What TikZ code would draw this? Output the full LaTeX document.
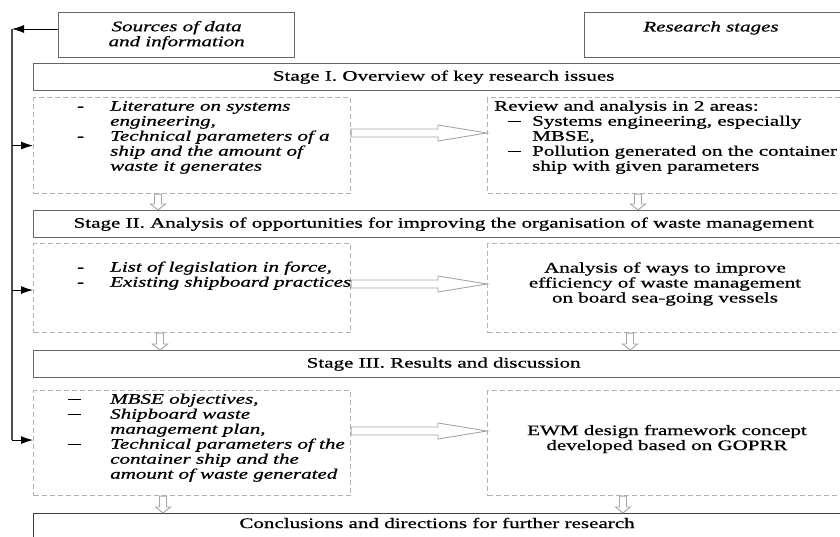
\documentclass[tikz,border=0pt]{standalone}
\usepackage{fontspec}
\setmainfont{Liberation Serif}[FakeStretch=1.45,FakeBold=0.8]
\usetikzlibrary{arrows.meta,calc}
\newcommand\fs{\fontsize{14.5}{15}\selectfont}
\tikzset{
  frame/.style={draw=black!60, line width=1.3pt, inner sep=0pt, anchor=north west},
  dbox/.style={draw=black!30, line width=1.1pt, dash pattern=on 5pt off 3pt, inner sep=0pt, anchor=north west},
  txt/.style={inner sep=0pt, font=\fs},
  hollow/.style={draw=black!35, line width=0.9pt, fill=white, line join=miter},
  fb/.style={draw=black, line width=0.9pt, -{Latex[length=12pt,width=8pt]}},
  fbline/.style={draw=black!70, line width=1.1pt}
}
\newcommand\hright[2]{\draw[hollow] ($(#1)+(0,-4)$) -- ($(#2)+(-49,-4)$) -- ($(#2)+(-49,-8)$) -- (#2) -- ($(#2)+(-49,8)$) -- ($(#2)+(-49,4)$) -- ($(#1)+(0,4)$) -- cycle;}
\newcommand\hdown[2]{\draw[hollow] ($(#1)+(-3.5,0)$) -- ($(#2)+(-3.5,-6)$) -- ($(#2)+(-7.5,-6)$) -- (#2) -- ($(#2)+(7.5,-6)$) -- ($(#2)+(3.5,-6)$) -- ($(#1)+(3.5,0)$) -- cycle;}
\newcommand\ldash{\rule[3.6pt]{13pt}{0.8pt}}
\begin{document}
\begin{tikzpicture}[x=1pt,y=-1pt]
\useasboundingbox (0,0) rectangle (840,537);
\clip (0,0) rectangle (840,537);
% header boxes
\node[frame, minimum width=236pt, minimum height=45pt, align=center, font=\fs\itshape] (src) at (58,12) {Sources of data\\and information};
\node[frame, minimum width=270pt, minimum height=45pt] (res) at (584,12) {};
\node[txt, font=\fs\itshape] (restxt) at (711,28) {Research stages};
% stage boxes
\node[frame, minimum width=820pt, minimum height=27pt, font=\fs] (s1) at (33,63) {Stage I. Overview of key research issues};
\node[frame, minimum width=820pt, minimum height=27pt, font=\fs] (s2) at (33,210) {Stage II. Analysis of opportunities for improving the organisation of waste management};
\node[frame, minimum width=820pt, minimum height=27pt, font=\fs] (s3) at (33,350) {Stage III. Results and discussion};
\node[frame, draw=black!75, minimum width=820pt, minimum height=50pt] (s4) at (33,513) {};
\node[txt] (s4txt) at (437,523) {Conclusions and directions for further research};
% dashed boxes
\node[dbox, minimum width=317pt, minimum height=96pt] (L1) at (33,97) {};
\node[dbox, minimum width=360pt, minimum height=96pt] (R1) at (487,97) {};
\node[dbox, minimum width=317pt, minimum height=89pt] (L2) at (33,243) {};
\node[dbox, minimum width=360pt, minimum height=89pt] (R2) at (487,243) {};
\node[dbox, minimum width=317pt, minimum height=105pt] (L3) at (33,390) {};
\node[dbox, minimum width=360pt, minimum height=105pt] (R3) at (487,390) {};
% texts
\node[txt, anchor=north west, font=\fs\itshape] (L1t) at (77,100) {%
\begin{tabular}{@{}p{33pt}@{}l@{}}-&Literature on systems\\ &engineering,\\ -&Technical parameters of a\\ &ship and the amount of\\ &waste it generates\end{tabular}};
\node[txt, anchor=north west] (R1t) at (494,100) {%
\begin{tabular}{@{}p{14pt}@{}p{24pt}@{}l@{}}\multicolumn{3}{@{}l@{}}{Review and analysis in 2 areas:}\\ &\ldash&Systems engineering, especially\\ &&MBSE,\\ &\ldash&Pollution generated on the container\\ &&ship with given parameters\end{tabular}};
\node[txt, anchor=north west, font=\fs\itshape] (L2t) at (77,261) {%
\begin{tabular}{@{}p{33pt}@{}l@{}}-&List of legislation in force,\\ -&Existing shipboard practices\end{tabular}};
\node[txt, align=center] (R2t) at (665,284) {Analysis of ways to improve\\efficiency of waste management\\on board sea-going vessels};
\node[txt, anchor=north west, font=\fs\itshape] (L3t) at (68,393) {%
\begin{tabular}{@{}p{42pt}@{}l@{}}\ldash&MBSE objectives,\\ \ldash&Shipboard waste\\ &management plan,\\ \ldash&Technical parameters of the\\ &container ship and the\\ &amount of waste generated\end{tabular}};
\node[txt, align=center] (R3t) at (667,439) {EWM design framework concept\\developed based on GOPRR};
% hollow right arrows
\coordinate (a1s) at ($(L1.north east)+(0,36)$);
\coordinate (a1e) at ($(R1.north west)+(0,36)$);
\hright{a1s}{a1e}
\coordinate (a2s) at ($(L2.north east)+(0,41)$);
\coordinate (a2e) at ($(R2.north west)+(0,41)$);
\hright{a2s}{a2e}
\coordinate (a3s) at ($(L3.north east)+(0,41)$);
\coordinate (a3e) at ($(R3.north west)+(0,41)$);
\hright{a3s}{a3e}
% hollow down arrows
\hdown{$(L1.south west)+(125,0)$}{$(s2.north west)+(125,0)$}
\hdown{$(R1.south west)+(151,0)$}{$(s2.north west)+(605,0)$}
\hdown{$(L2.south west)+(127,0)$}{$(s3.north west)+(127,0)$}
\hdown{$(R2.south west)+(143,0)$}{$(s3.north west)+(597,0)$}
\hdown{$(L3.south west)+(130,0)$}{$(s4.north west)+(130,0)$}
\hdown{$(R3.south west)+(136,0)$}{$(s4.north west)+(590,0)$}
% feedback connector
\coordinate (fbs) at ($(src.north west)+(0,17)$);
\coordinate (fbt) at (12,29);
\coordinate (fbb) at ($(L3.west)+(-21,-3)$);
\draw[fb] (fbs) -- (fbt);
\draw[fbline] (fbt) -- (fbt |- fbb);
\draw[fb] (fbt |- L1.west) -- (L1.west);
\draw[fb] ($(fbt |- L2.west)+(0,2)$) -- ($(L2.west)+(0,2)$);
\draw[fb] (fbt |- fbb) -- ($(L3.west)+(0,-3)$);
\end{tikzpicture}
\end{document}
